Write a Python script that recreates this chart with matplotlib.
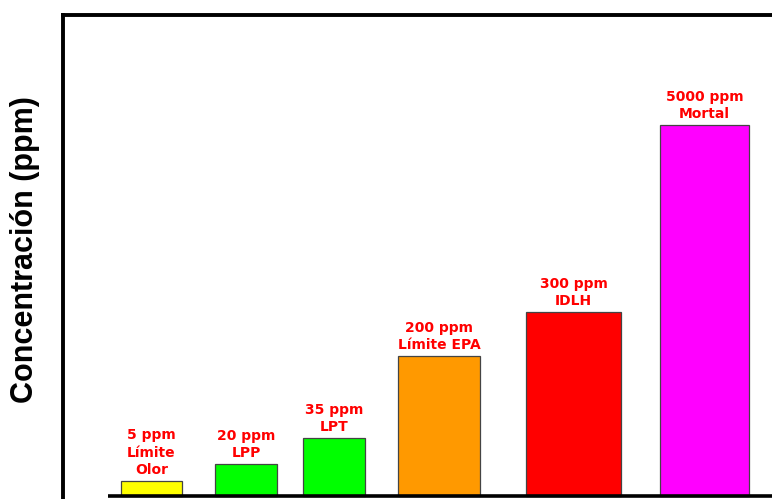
import matplotlib
matplotlib.use("Agg")
import matplotlib.pyplot as plt

# ---- data ----
categories = ["Límite Olor", "LPP", "LPT", "Límite EPA", "IDLH", "Mortal"]
ppm_values = [5, 20, 35, 200, 300, 5000]
bar_labels = [
    "5 ppm\nLímite\nOlor",
    "20 ppm\nLPP",
    "35 ppm\nLPT",
    "200 ppm\nLímite EPA",
    "300 ppm\nIDLH",
    "5000 ppm\nMortal",
]
# drawn heights are not to scale in the original (schematic axis)
display_heights = [15, 32, 58, 140, 184, 371]
bar_colors = ["#FFFF00", "#00FF00", "#00FF00", "#FF9900", "#FF0000", "#FF00FF"]

# ---- layout (pixel-like axis units) ----
bar_left = [121, 215, 303, 398, 526, 660]
bar_width = [61, 62, 62, 82, 95, 89]

fig = plt.figure(figsize=(7.72, 4.99), dpi=100)
# axes frame runs off the right and bottom edges of the picture
ax = fig.add_axes([63 / 772, -14 / 499, (820 - 63) / 772, (499 - 15 + 14) / 499])
ax.set_xlim(63, 820)
ax.set_ylim(-17, 481)

ax.bar(bar_left, display_heights, width=bar_width, align="edge",
       color=bar_colors, edgecolor="#444444", linewidth=0.9, zorder=2)

for left, w, h, lab in zip(bar_left, bar_width, display_heights, bar_labels):
    ax.annotate(lab, (left + w / 2, h), xytext=(0, 3), textcoords="offset points",
                ha="center", va="bottom", color="#FF0000", fontsize=10,
                fontweight="bold", linespacing=1.3, family="DejaVu Sans")

# baseline
ax.plot([108, 820], [0, 0], color="black", linewidth=2.6, solid_capstyle="butt", zorder=3)

for side in ["left", "top"]:
    ax.spines[side].set_linewidth(2.8)
ax.spines["bottom"].set_visible(False)
ax.spines["right"].set_visible(False)
ax.set_xticks([])
ax.set_yticks([])

fig.text(25 / 772, 1 - 250 / 499, "Concentración (ppm)", rotation=90,
         ha="center", va="center", fontsize=22, fontweight="bold",
         family="Liberation Sans")

fig.savefig("out.png", dpi=100)
